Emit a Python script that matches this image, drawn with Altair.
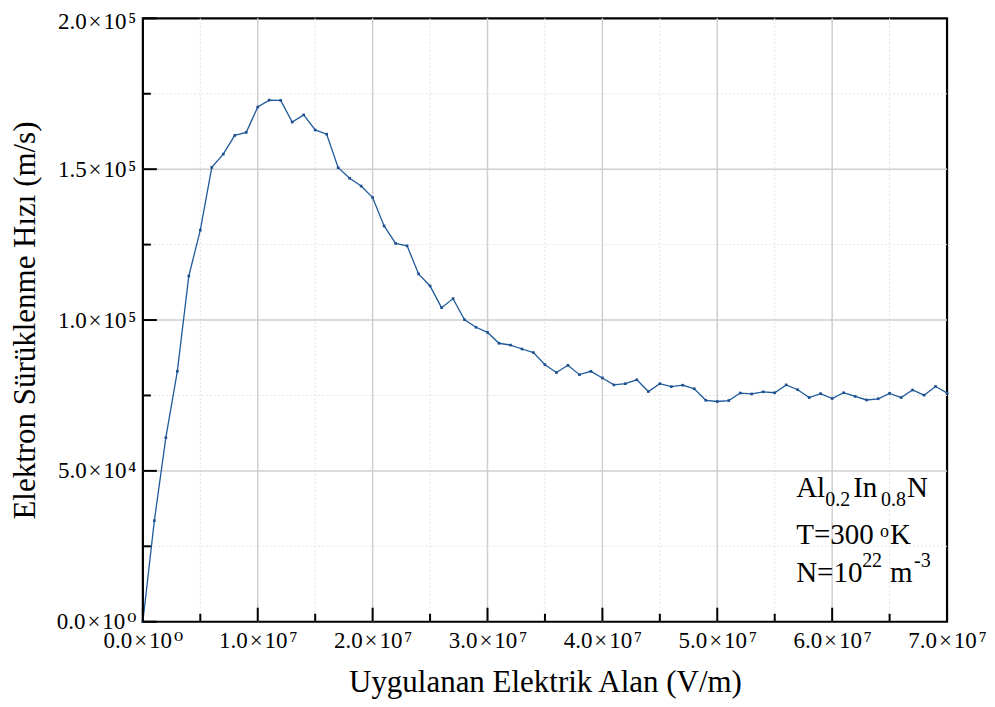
import altair as alt
import pandas as pd

# Data (field in units of 1e6 V/m, velocity in units of 1e3 m/s)
field_MVm = list(range(0, 71))
velocity_k = [
    0, 33.5, 61.0, 83.0, 114.6, 129.8, 150.6, 155.0, 161.2, 162.2,
    170.6, 172.9, 172.8, 165.6, 168.0, 163.0, 161.6, 150.5, 147.0, 144.4,
    140.6, 131.2, 125.4, 124.6, 115.3, 111.3, 104.1, 107.1, 100.1, 97.6,
    95.9, 92.3, 91.7, 90.4, 89.2, 85.2, 82.6, 85.0, 81.9, 83.0,
    80.8, 78.5, 78.9, 80.2, 76.3, 78.9, 77.9, 78.4, 77.2, 73.4,
    73.0, 73.3, 75.8, 75.5, 76.2, 75.9, 78.5, 76.9, 74.3, 75.6,
    74.0, 75.9, 74.7, 73.5, 73.9, 75.7, 74.3, 76.8, 75.1, 78.0,
    75.8,
]

x_major = [0, 1e7, 2e7, 3e7, 4e7, 5e7, 6e7, 7e7]
x_minor = [5e6, 1.5e7, 2.5e7, 3.5e7, 4.5e7, 5.5e7, 6.5e7]
y_major = [0, 5e4, 1e5, 1.5e5, 2e5]
y_minor = [2.5e4, 7.5e4, 1.25e5, 1.75e5]
HS = "\u200a"
x_mant = ["0.0", "1.0", "2.0", "3.0", "4.0", "5.0", "6.0", "7.0"]
x_exp = ["⁰", "⁷", "⁷", "⁷", "⁷", "⁷", "⁷", "⁷"]
y_mant = ["0.0", "5.0", "1.0", "1.5", "2.0"]
y_exp = ["⁰", "⁴", "⁵", "⁵", "⁵"]
x_labels = [m + HS + "×" + HS + "10" + HS + e for m, e in zip(x_mant, x_exp)]
y_labels = [m + HS + "×" + HS + "10" + HS + e for m, e in zip(y_mant, y_exp)]

x_title = "Uygulanan Elektrik Alan (V/m)"
y_title = "Elektron Sürüklenme Hızı (m/s)"

FONT = "'Liberation Serif', 'DejaVu Serif', 'Times New Roman', serif"
W, H = 805, 604

df = pd.DataFrame({"x": [v * 1e6 for v in field_MVm],
                   "y": [v * 1e3 for v in velocity_k]})

xs = alt.Scale(domain=[0, 7e7], nice=False, zero=False)
ys = alt.Scale(domain=[0, 2e5], nice=False, zero=False)

xlab_js = "[" + ",".join("'%s'" % s for s in x_labels) + "]"
ylab_js = "[" + ",".join("'%s'" % s for s in y_labels) + "]"

x_axis = alt.Axis(values=x_major, grid=False, ticks=False, domain=False,
                  labelExpr=xlab_js + "[round(datum.value/1e7)]",
                  labelPadding=8, labelFlush=False, labelOverlap=False,
                  labelFont=FONT, titleFont=FONT,
                  title=x_title, titlePadding=15)
y_axis = alt.Axis(values=y_major, grid=False, ticks=False, domain=False,
                  labelExpr=ylab_js + "[round(datum.value/5e4)]",
                  labelPadding=7, labelFlush=False, labelOverlap=False,
                  labelOffset={"condition": {"test": "datum.value >= 200000", "value": 3}, "value": 0},
                  labelFont=FONT, titleFont=FONT,
                  title=y_title, titleX=-101, titleY=H / 2, titleBaseline="bottom")


def X(field="x"):
    return alt.X(f"{field}:Q", scale=xs, axis=x_axis)


def Y(field="y"):
    return alt.Y(f"{field}:Q", scale=ys, axis=y_axis)


def xrules(vals, **kw):
    return alt.Chart(pd.DataFrame({"x": vals})).mark_rule(**kw)


def yrules(vals, **kw):
    return alt.Chart(pd.DataFrame({"y": vals})).mark_rule(**kw)


minor_gx = xrules(x_minor, color="#e3e3e3", strokeWidth=1, strokeDash=[2, 2]).encode(x=X())
minor_gy = yrules(y_minor, color="#e3e3e3", strokeWidth=1, strokeDash=[2, 2]).encode(y=Y())
major_gx = xrules(x_major[1:-1], color="#cfcfcf", strokeWidth=1.5).encode(x=X())
major_gy = yrules(y_major[1:-1], color="#cfcfcf", strokeWidth=1.5).encode(y=Y())

line = alt.Chart(df).mark_line(
    color="#1f5b9b", strokeWidth=1.3,
    point=alt.OverlayMarkDef(shape="square", size=7, filled=True, color="#1f4f8f"),
).encode(x=X(), y=Y())

tick_xM = xrules(x_major, color="black", strokeWidth=2).encode(
    x=X(), y=alt.value(H), y2=alt.value(H - 14))
tick_xm = xrules(x_minor, color="black", strokeWidth=2).encode(
    x=X(), y=alt.value(H), y2=alt.value(H - 8))
tick_yM = yrules(y_major, color="black", strokeWidth=2).encode(
    y=Y(), x=alt.value(0), x2=alt.value(14))
tick_ym = yrules(y_minor, color="black", strokeWidth=2).encode(
    y=Y(), x=alt.value(0), x2=alt.value(8))


def txt(s, x, y, size):
    return alt.Chart(pd.DataFrame({"t": [s]})).mark_text(
        font=FONT, fontSize=size, color="black", align="left", baseline="alphabetic"
    ).encode(text="t:N", x=alt.value(x), y=alt.value(y))


dy = -4  # plot top is lower than in reference
annot = [
    txt("Al", 654, 483 + dy, 29), txt("0.2", 683, 492 + dy, 20),
    txt("In", 711, 483 + dy, 29), txt("0.8", 739, 492 + dy, 20), txt("N", 765, 483 + dy, 29),
    txt("T=300", 654, 530 + dy, 29), txt("o", 738, 523 + dy, 18), txt("K", 748, 530 + dy, 29),
    txt("N=10", 654, 568 + dy, 29), txt("22", 720, 553 + dy, 20),
    txt("m", 748, 568 + dy, 29), txt("-3", 772, 553 + dy, 20),
]

chart = alt.layer(
    minor_gx, minor_gy, major_gx, major_gy, line,
    tick_xM, tick_xm, tick_yM, tick_ym, *annot
).properties(
    width=W, height=H,
    autosize=alt.AutoSizeParams(type="none"),
    padding={"left": 135, "top": 10, "right": 40, "bottom": 78},
    background="white",
).configure(font=FONT).configure_axis(
    labelFont=FONT, labelFontSize=23, labelColor="black",
    titleFont=FONT, titleFontSize=31, titleFontWeight="normal", titleColor="black",
).configure_view(stroke="black", strokeWidth=2.2)

chart.save("out.html", embed_options={"renderer": "svg", "actions": False})
